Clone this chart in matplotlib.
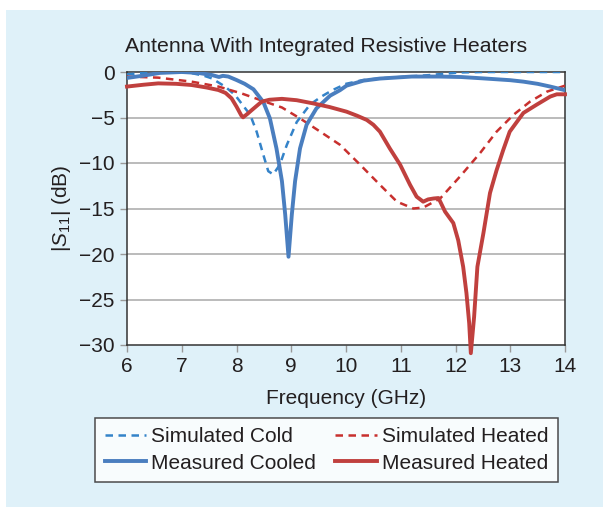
import matplotlib
matplotlib.use("Agg")
import matplotlib.pyplot as plt
from matplotlib.patches import Rectangle

plt.rcParams['font.family'] = ['Liberation Sans', 'DejaVu Sans']
plt.rcParams['mathtext.fontset'] = 'custom'
plt.rcParams['mathtext.rm'] = 'Liberation Sans'
plt.rcParams['mathtext.it'] = 'Liberation Sans:italic'

# ---- data ----
f_sim_cold = [6.0, 6.3, 6.6, 7.0, 7.2, 7.4, 7.55, 7.79, 7.97, 8.16, 8.25, 8.37, 8.49, 8.58, 8.67,
              8.79, 8.92, 9.10, 9.34, 9.55, 9.75, 10.0, 10.3, 10.62, 11.0, 11.5, 12.08, 12.5, 14.0]
s_sim_cold = [-0.26, -0.1, 0.0, 0.0, -0.15, -0.4, -0.7, -1.6, -2.5, -4.0, -4.7, -6.6, -9.1, -10.9, -11.25,
              -10.2, -8.0, -5.5, -3.6, -2.7, -2.0, -1.3, -0.9, -0.7, -0.55, -0.35, -0.05, 0.0, 0.0]

f_meas_cool = [6.0, 6.3, 6.6, 7.0, 7.3, 7.55, 7.68, 7.75, 7.85, 8.0, 8.15, 8.31, 8.49, 8.61, 8.73, 8.83,
               8.89, 8.95, 9.01, 9.07, 9.16, 9.28, 9.46, 9.71, 9.89, 10.01, 10.32, 10.62, 11.2, 11.7,
               12.1, 12.5, 13.0, 13.24, 13.5, 13.73, 14.0]
s_meas_cool = [-0.65, -0.4, -0.1, 0.0, -0.1, -0.33, -0.55, -0.42, -0.5, -0.88, -1.3, -1.9, -3.3, -5.1, -8.4, -12.0,
               -15.7, -20.3, -15.7, -12.0, -8.4, -5.8, -4.0, -2.6, -2.0, -1.5, -0.95, -0.72, -0.5, -0.5,
               -0.55, -0.7, -0.9, -1.06, -1.3, -1.6, -2.0]

f_sim_heat = [6.0, 6.57, 7.18, 7.67, 8.09, 8.52, 8.83, 9.16, 9.53, 9.89, 10.26, 10.62, 10.93, 11.23, 11.41,
              11.72, 12.08, 12.45, 12.75, 13.06, 13.36, 13.67, 14.0]
s_sim_heat = [-0.5, -0.62, -1.06, -1.6, -2.35, -3.26, -3.9, -5.1, -6.56, -8.0, -10.2, -12.4, -14.25, -15.0, -14.9,
              -13.9, -11.5, -8.9, -6.56, -4.7, -3.26, -2.16, -1.5]

f_meas_heat = [6.0, 6.3, 6.57, 6.9, 7.18, 7.45, 7.67, 7.8, 7.91, 8.0, 8.09, 8.12, 8.2, 8.28, 8.46, 8.6, 8.83,
               9.1, 9.40, 9.7, 10.01, 10.2, 10.38, 10.5, 10.62, 10.80, 10.99, 11.17, 11.29, 11.41, 11.5, 11.6,
               11.69, 11.81, 11.96, 12.05, 12.14, 12.20, 12.25, 12.28, 12.34, 12.40, 12.51, 12.63, 12.75,
               12.87, 12.99, 13.24, 13.48, 13.73, 13.85, 14.0]
s_meas_heat = [-1.6, -1.4, -1.25, -1.3, -1.43, -1.7, -1.98, -2.3, -2.9, -3.8, -4.8, -4.98, -4.6, -4.18, -3.26, -3.05, -2.95,
               -3.1, -3.45, -3.85, -4.36, -4.8, -5.27, -5.8, -6.56, -8.4, -10.2, -12.4, -13.7, -14.25, -14.0, -13.9,
               -13.85, -15.35, -16.6, -18.5, -21.4, -24.3, -27.6, -30.9, -26.9, -21.4, -17.7, -13.3, -10.8,
               -8.6, -6.56, -4.5, -3.6, -2.7, -2.45, -2.45]

xticks = [6, 7, 8, 9, 10, 11, 12, 13, 14]
yticks = [0, -5, -10, -15, -20, -25, -30]
title = "Antenna With Integrated Resistive Heaters"

# ---- figure ----
W, H = 603, 507
fig = plt.figure(figsize=(W / 100, H / 100), dpi=100, facecolor='white')
fig.patches.append(Rectangle((6 / W, 0), 1 - 6 / W, 1 - 9.5 / H, transform=fig.transFigure,
                             facecolor='#dff1f9', edgecolor='none', zorder=-10))

ax = fig.add_axes([127 / W, 1 - 345 / H, (565 - 127) / W, (345 - 72) / H])
ax.set_facecolor('white')

c_blue = '#4a7ebf'
c_blue_d = '#3483c9'
c_red = '#c0403e'
c_red_d = '#c8302e'

l1, = ax.plot(f_sim_cold, s_sim_cold, color=c_blue_d, lw=1.8, ls=(0, (3, 2.2)), label='Simulated Cold', zorder=3)
l2, = ax.plot(f_meas_cool, s_meas_cool, color=c_blue, lw=2.8, label='Measured Cooled', zorder=4)
l3, = ax.plot(f_sim_heat, s_sim_heat, color=c_red_d, lw=1.8, ls=(0, (3, 2.2)), label='Simulated Heated', zorder=3)
l4, = ax.plot(f_meas_heat, s_meas_heat, color=c_red, lw=2.8, label='Measured Heated', zorder=4, clip_on=False)

ax.set_xlim(6, 14)
ax.set_ylim(-30, 0)
ax.set_xticks(xticks)
ax.set_yticks(yticks)
ax.set_xticklabels([str(t) for t in xticks])
ax.set_yticklabels(['0' if t == 0 else '\u2212' + str(-t) for t in yticks])
ax.tick_params(axis='both', direction='out', length=5, width=1, color='#999999',
               labelsize=15, labelcolor='#231f20', pad=4)
for y in yticks[1:-1]:
    ax.axhline(y, color='#a8a8a8', lw=1.1, zorder=1)
for s in ax.spines.values():
    s.set_color('#333333')
    s.set_linewidth(1.1)

ax.set_xlabel('Frequency (GHz)', fontsize=15, color='#231f20', labelpad=9)
ax.set_ylabel(r'|$S_{11}$| (dB)', fontsize=15, color='#231f20', labelpad=4)
fig.text(326 / W, 1 - 47 / H, title, ha='center', va='center', fontsize=15.3, color='#231f20')

leg = fig.legend(handles=[l1, l2, l3, l4], ncol=2, loc='center',
                 bbox_to_anchor=(326.5 / W, 1 - 450 / H), frameon=True, fancybox=False,
                 fontsize=15, handlelength=2.0, handletextpad=0.25, columnspacing=0.9,
                 borderpad=0.45, labelspacing=0.35, edgecolor='#231f20')
leg.get_frame().set_linewidth(1.1)
for t in leg.get_texts():
    t.set_color('#231f20')

fig.savefig('out.png', dpi=100, facecolor=fig.get_facecolor())
